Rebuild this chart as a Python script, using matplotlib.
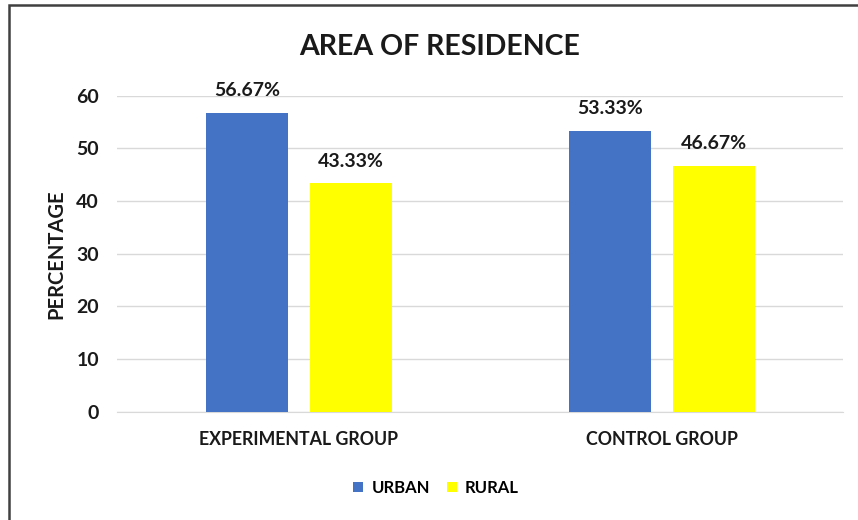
import numpy as np
import matplotlib.pyplot as plt
from matplotlib.patches import Rectangle

groups = ['EXPERIMENTAL GROUP', 'CONTROL GROUP']
series_names = ['URBAN', 'RURAL']
urban = [56.67, 53.33]
rural = [43.33, 46.67]
yticks = [0, 10, 20, 30, 40, 50, 60]

plt.rcParams['font.family'] = ['Lato', 'DejaVu Sans']
txt = '#1a1a1a'

fig = plt.figure(figsize=(8.58, 5.2), dpi=100)
ax = fig.add_axes([117 / 858, 108.3 / 520, 726 / 858, 316 / 520])

x = np.arange(len(groups))
w = 0.226
off = 0.143
b1 = ax.bar(x - off, urban, w, color='#4472C4', label=series_names[0], zorder=3)
b2 = ax.bar(x + off, rural, w, color='#FFFF00', label=series_names[1], zorder=3)

for bars, vals in ((b1, urban), (b2, rural)):
    for b, v in zip(bars, vals):
        ax.annotate(f'{v:.2f}%', (b.get_x() + b.get_width() / 2, v),
                    xytext=(0, 10), textcoords='offset points',
                    ha='center', va='bottom', fontsize=14,
                    fontweight='bold', color=txt)

ax.set_xlim(-0.501, 1.499)
ax.set_ylim(0, 60)
ax.set_yticks(yticks)
ax.set_xticks(x)
ax.set_xticklabels(groups, fontsize=12.8, fontweight='bold', color=txt)
ax.tick_params(axis='both', length=0)
ax.tick_params(axis='y', pad=13, labelsize=14, labelcolor=txt)
ax.tick_params(axis='x', pad=14)
for lbl in ax.get_yticklabels():
    lbl.set_fontweight('bold')
ax.grid(axis='y', color='#D9D9D9', linewidth=1, zorder=0)
for s in ['top', 'right', 'left']:
    ax.spines[s].set_visible(False)
ax.spines['bottom'].set_color('#D9D9D9')

ax.set_ylabel('PERCENTAGE', fontsize=14.5, fontweight='bold', color=txt)
ax.yaxis.set_label_coords(-0.070, 0.5)
fig.text(440 / 858, 1 - 47 / 520, 'AREA OF RESIDENCE', ha='center', va='center',
         fontsize=20.5, fontweight='bold', color=txt)

fig.legend(loc='center', bbox_to_anchor=(436 / 858, 1 - 488 / 520), ncol=2,
           frameon=False, prop={'size': 12, 'weight': 'bold'},
           handlelength=0.6, handleheight=0.6,
           handletextpad=0.5, columnspacing=1.0)

# outer chart border
fig.patches.append(Rectangle((8.5 / 858, -0.05), 1.0, 1 - 4.5 / 520 + 0.05,
                             transform=fig.transFigure, fill=False,
                             edgecolor='#404040', linewidth=1.8))

fig.savefig('out.png', dpi=100)
